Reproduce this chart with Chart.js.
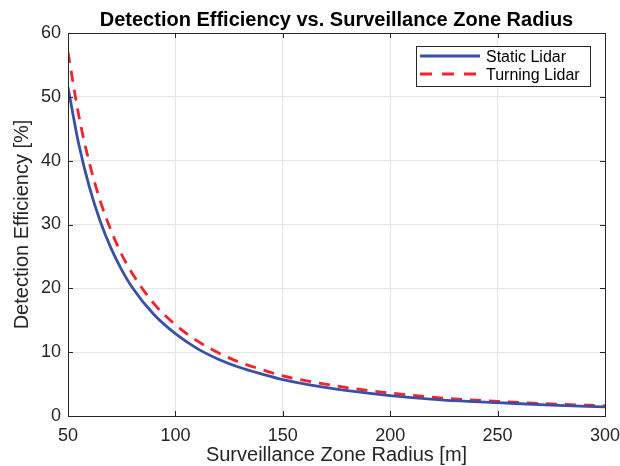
<!DOCTYPE html>
<html>
<head>
<meta charset="utf-8">
<script src="https://cdn.jsdelivr.net/npm/chart.js@4"></script>
<style>
  html, body { margin: 0; padding: 0; background: #fff; }
  canvas { display: block; }
</style>
</head>
<body>
<canvas id="lineChart" width="620" height="466"></canvas>
<script>
// radius [m]
const radius = [50, 55, 60, 65, 70, 75, 80, 90, 100, 110, 120, 130, 140, 150, 175, 200, 225, 250, 275, 300];
// detection efficiency [%]
const staticLidar = [51.5, 42.6, 35.8, 30.5, 26.3, 22.9, 20.1, 15.9, 12.9, 10.6, 8.9, 7.6, 6.6, 5.7, 4.2, 3.2, 2.5, 2.1, 1.7, 1.43];
const turningLidar = [57.0, 47.1, 39.6, 33.7, 29.1, 25.3, 22.3, 17.6, 14.3, 11.8, 9.9, 8.4, 7.3, 6.3, 4.7, 3.6, 2.8, 2.3, 1.9, 1.6];
const xTicks = [50, 100, 150, 200, 250, 300];
const yTicks = [0, 10, 20, 30, 40, 50, 60];

const blue = '#3a50a8';
const red = '#f5222d';
const fontFam = '"Liberation Sans", Arial, sans-serif';

// box around the plot + small ticks pointing inwards + legend inside
const framePlugin = {
    id: 'frame',
    afterDraw(chart) {
        const ctx = chart.ctx;
        const a = chart.chartArea;
        const xs = chart.scales.x, ys = chart.scales.y;
        ctx.save();
        ctx.strokeStyle = '#262626';
        ctx.lineWidth = 1;
        ctx.beginPath();
        xTicks.forEach(v => {
            const px = Math.round(xs.getPixelForValue(v)) + 0.5;
            ctx.moveTo(px, a.bottom); ctx.lineTo(px, a.bottom - 5);
            ctx.moveTo(px, a.top); ctx.lineTo(px, a.top + 5);
        });
        yTicks.forEach(v => {
            const py = Math.round(ys.getPixelForValue(v)) + 0.5;
            ctx.moveTo(a.left, py); ctx.lineTo(a.left + 5, py);
            ctx.moveTo(a.right, py); ctx.lineTo(a.right - 5, py);
        });
        ctx.stroke();
        ctx.strokeRect(Math.round(a.left) + 0.5, Math.round(a.top) + 0.5,
            Math.round(a.right - a.left), Math.round(a.bottom - a.top));

        // legend
        const lx = 416, ly = 46, lw = 174, lh = 40;
        ctx.fillStyle = '#fff';
        ctx.fillRect(lx, ly, lw, lh);
        ctx.strokeStyle = '#262626';
        ctx.strokeRect(lx + 0.5, ly + 0.5, lw, lh);
        ctx.font = '16px ' + fontFam;
        ctx.fillStyle = '#000';
        ctx.textBaseline = 'middle';
        ctx.lineWidth = 2.8;
        ctx.strokeStyle = blue;
        ctx.beginPath(); ctx.moveTo(420, 56); ctx.lineTo(480, 56); ctx.stroke();
        ctx.strokeStyle = red;
        ctx.setLineDash([12, 10]);
        ctx.beginPath(); ctx.moveTo(420, 74); ctx.lineTo(480, 74); ctx.stroke();
        ctx.setLineDash([]);
        ctx.fillText('Static Lidar', 486, 58);
        ctx.fillText('Turning Lidar', 486, 76);
        ctx.restore();
    }
};

const ctx = document.getElementById('lineChart').getContext('2d');
new Chart(ctx, {
    type: 'line',
    data: {
        datasets: [{
            label: 'Static Lidar',
            data: radius.map((r, i) => ({x: r, y: staticLidar[i]})),
            borderColor: blue,
            borderWidth: 2.8,
            pointRadius: 0,
            cubicInterpolationMode: 'monotone'
        },
            {
                label: 'Turning Lidar',
                data: radius.map((r, i) => ({x: r, y: turningLidar[i]})),
                borderColor: red,
                borderWidth: 2.8,
                borderDash: [11, 8],
                pointRadius: 0,
                cubicInterpolationMode: 'monotone'
            }
        ]
    },
    options: {
        responsive: false,
        animation: false,
        layout: {padding: {left: 0, right: 15, top: 0, bottom: 0}},
        plugins: {
            legend: {display: false},
            tooltip: {enabled: false},
            title: {
                display: true,
                fullSize: false,
                text: 'Detection Efficiency vs. Surveillance Zone Radius',
                color: '#000',
                font: {size: 20, weight: 'bold', family: fontFam},
                padding: {top: 8, bottom: 1}
            }
        },
        scales: {
            x: {
                type: 'linear',
                min: 50,
                max: 300,
                afterBuildTicks: s => { s.ticks = xTicks.map(v => ({value: v})); },
                afterFit: s => { s.height = 50; s.paddingRight = 0; s.paddingLeft = 0; },
                grid: {color: '#e3e3e3', drawTicks: false},
                border: {display: false},
                ticks: {color: '#262626', padding: 9, font: {size: 18, family: fontFam}},
                title: {
                    display: true,
                    text: 'Surveillance Zone Radius [m]',
                    color: '#262626',
                    padding: {top: 0, bottom: -1},
                    font: {size: 20, family: fontFam}
                }
            },
            y: {
                type: 'linear',
                min: 0,
                max: 60,
                afterBuildTicks: s => { s.ticks = yTicks.map(v => ({value: v})); },
                afterFit: s => { s.width = 68; s.paddingTop = 0; s.paddingBottom = 0; },
                grid: {color: '#e3e3e3', drawTicks: false},
                border: {display: false},
                ticks: {color: '#262626', padding: 7, font: {size: 18, family: fontFam}},
                title: {
                    display: true,
                    text: 'Detection Efficiency [%]',
                    color: '#262626',
                    padding: {top: 10, bottom: 2},
                    font: {size: 20, family: fontFam}
                }
            }
        }
    },
    plugins: [framePlugin]
});
</script>
</body>
</html>
